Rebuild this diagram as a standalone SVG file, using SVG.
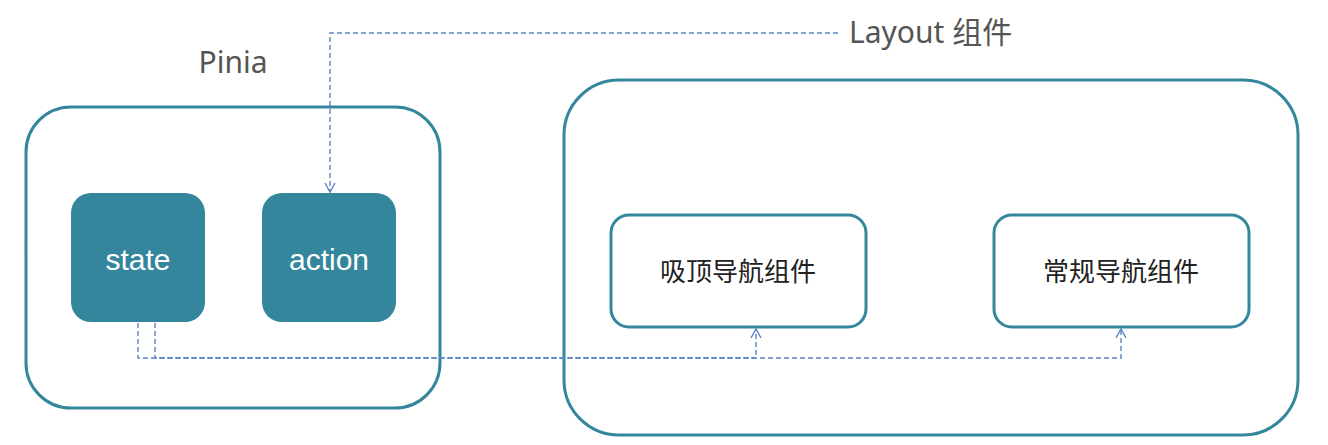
<svg xmlns="http://www.w3.org/2000/svg" width="1328" height="445" viewBox="0 0 1328 445">
  <style>
    .outer { fill: #ffffff; stroke: #33869c; stroke-width: 3; }
    .inner { fill: #ffffff; stroke: #33869c; stroke-width: 3; }
    .solid { fill: #33869c; }
    .dash { fill: none; stroke: #5b84c4; stroke-width: 1.4; stroke-dasharray: 5 3; }
    .lbl { font-family: "Noto Sans", "Noto Sans CJK SC", sans-serif; fill: #555555; }
    .white { font-family: "Liberation Sans", Arial, sans-serif; font-size: 30px; fill: #ffffff; text-anchor: middle; }
    .cjk { font-family: "Noto Sans CJK SC", sans-serif; font-size: 26px; fill: #222222; text-anchor: middle; }
  </style>
  <defs>
    <marker id="arr" markerWidth="14" markerHeight="14" refX="10" refY="6" orient="auto" markerUnits="userSpaceOnUse">
      <path d="M1,1 L10,6 L1,11" fill="none" stroke="#5b84c4" stroke-width="1.4"/>
    </marker>
  </defs>
  <rect width="1328" height="445" fill="#ffffff"/>

  <g id="pinia">
    <rect class="outer" x="26" y="107" width="414" height="301" rx="45"/>
    <text class="lbl" x="233" y="73" font-size="30" text-anchor="middle">Pinia</text>
  </g>
  <g id="layout">
    <rect class="outer" x="564" y="80" width="734" height="355" rx="55"/>
    <text class="lbl" x="849" y="43" font-size="30">Layout 组件</text>
  </g>
  <g id="state">
    <rect class="solid" x="71" y="193" width="134" height="129" rx="20"/>
    <text class="white" x="138" y="270">state</text>
  </g>
  <g id="action">
    <rect class="solid" x="262" y="193" width="134" height="129" rx="20"/>
    <text class="white" x="329" y="270">action</text>
  </g>
  <g id="sticky-nav">
    <rect class="inner" x="611" y="215" width="255" height="112" rx="18"/>
    <text class="cjk" x="738" y="281">吸顶导航组件</text>
  </g>
  <g id="normal-nav">
    <rect class="inner" x="994" y="215" width="255" height="112" rx="18"/>
    <text class="cjk" x="1121" y="281">常规导航组件</text>
  </g>

  <g id="connectors">
    <path class="dash" d="M838,33 H330 V192" marker-end="url(#arr)"/>
    <path class="dash" d="M138,323 V358 H756 V329" marker-end="url(#arr)"/>
    <path class="dash" d="M155,323 V358 H1121 V329" marker-end="url(#arr)"/>
  </g>
</svg>
